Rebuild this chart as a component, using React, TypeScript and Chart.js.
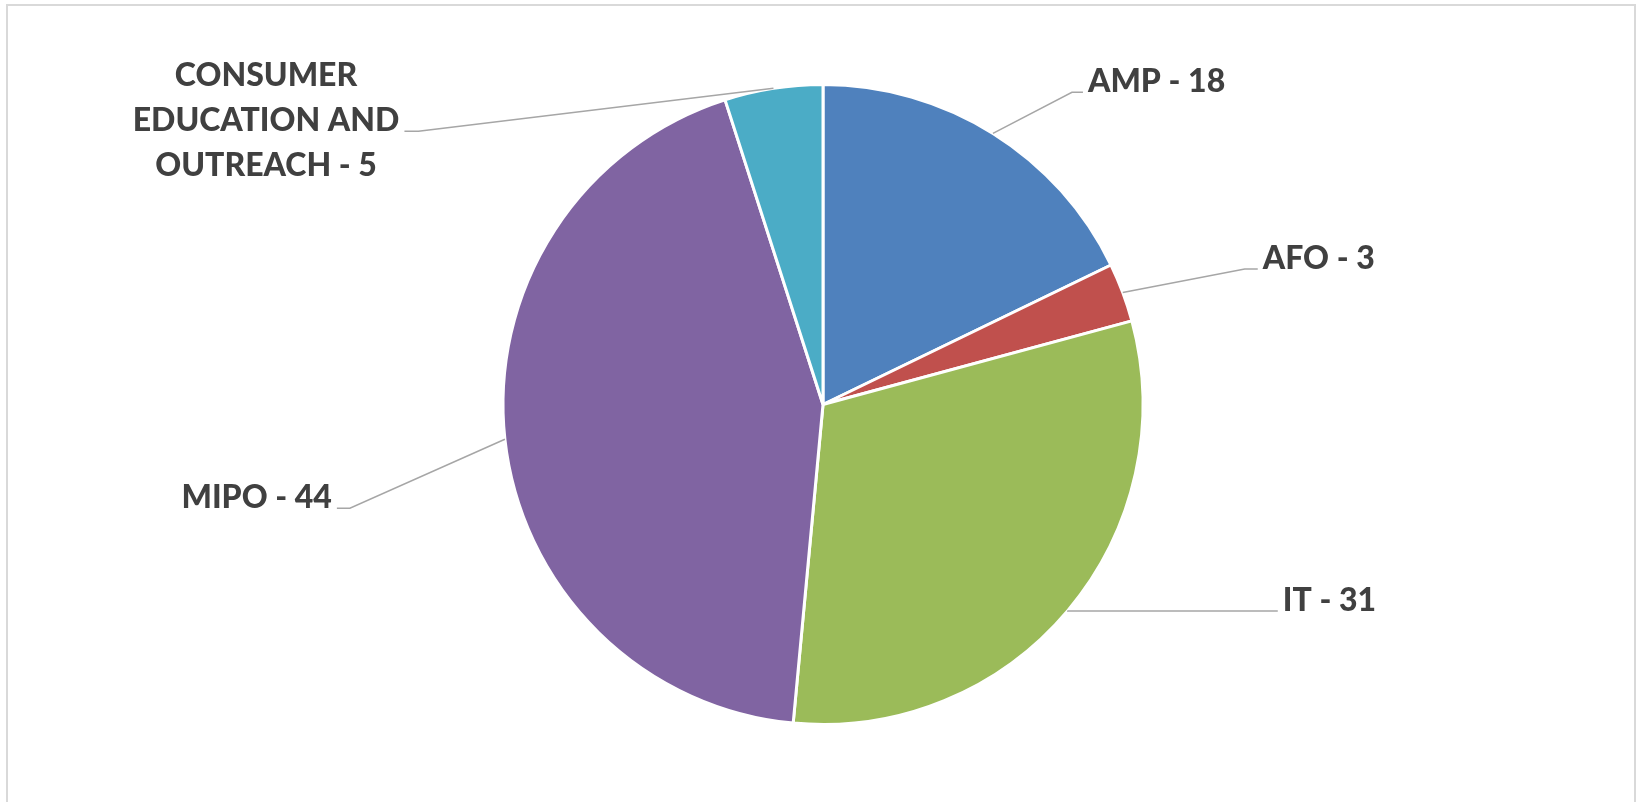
import React, { useEffect, useRef } from "react";
import { Chart, registerables } from "chart.js";

Chart.register(...registerables);

const categories = ["AMP", "AFO", "IT", "MIPO", "CONSUMER EDUCATION AND OUTREACH"];
const values = [18, 3, 31, 44, 5];
const sliceColors = ["#4F81BD", "#C0504D", "#9BBB59", "#8064A2", "#4BACC6"];

// leader-line layout per label: elbow offset from the slice's edge midpoint, horizontal tail length, side
const labelLayout = [
  { dx: 79, dy: -41, h: 11, side: 1, maxW: 1000 },
  { dx: 122, dy: -23.5, h: 13, side: 1, maxW: 1000 },
  { dx: 0, dy: 0.5, h: 210, side: 1, maxW: 1000 },
  { dx: -155, dy: 69, h: 13, side: -1, maxW: 1000 },
  { dx: -355, dy: 43, h: 14, side: -1, maxW: 285 },
];

const FONT = "900 32px Lato";
const LINE_H = 45;
const GAP = 5;

function wrap(ctx: CanvasRenderingContext2D, text: string, maxW: number): string[] {
  const words = text.split(" ");
  const lines: string[] = [];
  let cur = "";
  for (const w of words) {
    const t = cur ? cur + " " + w : w;
    if (cur && ctx.measureText(t).width > maxW) {
      lines.push(cur);
      cur = w;
    } else cur = t;
  }
  if (cur) lines.push(cur);
  return lines;
}

const labelPlugin = {
  id: "excelLabels",
  afterDatasetsDraw(chart: any) {
    const ctx: CanvasRenderingContext2D = chart.ctx;
    const meta = chart.getDatasetMeta(0);
    ctx.save();
    meta.data.forEach((arc: any, i: number) => {
      const p = arc.getProps(["x", "y", "startAngle", "endAngle", "outerRadius"], true);
      const mid = (p.startAngle + p.endAngle) / 2;
      const ax = p.x + Math.cos(mid) * p.outerRadius;
      const ay = p.y + Math.sin(mid) * p.outerRadius;
      const L = labelLayout[i];
      const ex = ax + L.dx;
      const ey = ay + L.dy;
      const tx = ex + L.side * L.h;
      ctx.strokeStyle = "#A6A6A6";
      ctx.lineWidth = 1.5;
      ctx.beginPath();
      ctx.moveTo(ax, ay);
      ctx.lineTo(ex, ey);
      ctx.lineTo(tx, ey);
      ctx.stroke();

      ctx.font = FONT;
      ctx.fillStyle = "#404040";
      ctx.textBaseline = "alphabetic";
      ctx.textAlign = "center";
      const text = `${chart.data.labels[i]} - ${chart.data.datasets[0].data[i]}`;
      const lines = wrap(ctx, text, L.maxW);
      const maxW = Math.max(...lines.map((l) => ctx.measureText(l).width));
      const cx = tx + L.side * (GAP + maxW / 2);
      const y0 = ey - ((lines.length - 1) / 2) * LINE_H;
      lines.forEach((l, k) => ctx.fillText(l, cx, y0 + k * LINE_H));
    });
    ctx.restore();
  },
};

export default function App() {
  const ref = useRef<HTMLCanvasElement | null>(null);
  useEffect(() => {
    if (!ref.current) return;
    const chart = new Chart(ref.current, {
      type: "pie",
      data: {
        labels: categories,
        datasets: [
          {
            data: values,
            backgroundColor: sliceColors,
            borderColor: "#FFFFFF",
            borderWidth: 3,
          },
        ],
      },
      options: {
        animation: false,
        responsive: false,
        devicePixelRatio: 1,
        layout: { padding: { top: 83, bottom: 76, left: 0, right: 0 } },
        plugins: { legend: { display: false }, tooltip: { enabled: false } },
      },
      plugins: [labelPlugin],
    });
    return () => chart.destroy();
  }, []);
  return (
    <div style={{ position: "fixed", left: 0, top: 0, width: 1646, height: 802, overflow: "hidden", background: "#fff" }}>
      <div
        style={{
          position: "absolute",
          left: 6,
          top: 4,
          width: 1630,
          height: 900,
          border: "2px solid #D9D9D9",
          boxSizing: "border-box",
        }}
      />
      <canvas ref={ref} width={1646} height={802} style={{ position: "absolute", left: 0, top: 0, width: 1646, height: 802 }} />
    </div>
  );
}
